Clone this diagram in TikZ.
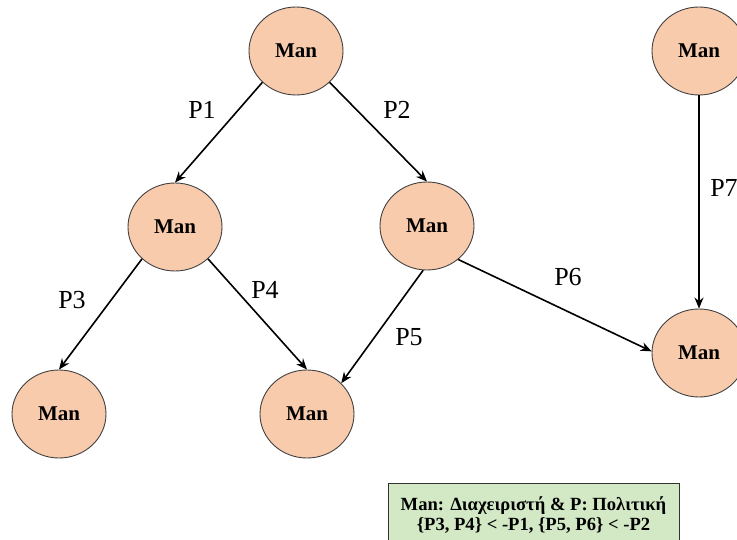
\documentclass[tikz,border=0pt]{standalone}
\usepackage{fontspec}
\setmainfont{Liberation Serif}
\usetikzlibrary{arrows.meta}
\definecolor{peach}{HTML}{F8CBAD}
\definecolor{legendgreen}{HTML}{D3E9C6}
\definecolor{edgegray}{HTML}{404040}
\tikzset{
  man/.style={ellipse, draw=edgegray, line width=0.9pt, fill=peach, minimum width=94pt, minimum height=88pt, inner sep=0pt, font=\fontsize{21}{24}\selectfont\bfseries},
  arr/.style={-{Stealth[length=11pt,width=9pt]}, line width=1.6pt, black},
  plabel/.style={font=\fontsize{26}{30}\selectfont, inner sep=0pt},
  legend/.style={draw=black!80, line width=1pt, fill=legendgreen, minimum width=291pt, minimum height=64pt, inner sep=0pt, align=center, font=\fontsize{18.6}{20.5}\selectfont\bfseries}
}
\usetikzlibrary{shapes.geometric}
\begin{document}
\begin{tikzpicture}[x=1pt,y=-1pt]
\useasboundingbox (0,0) rectangle (737,540);
\clip (0,0) rectangle (737,540);
\node[man] (top) at (296,51) {Man};
\node[man] (rt) at (699,51) {Man};
\node[man] (lm) at (175,227) {Man};
\node[man] (rm) at (427,226) {Man};
\node[man] (bl) at (59,414) {Man};
\node[man] (bm) at (307,414) {Man};
\node[man] (rb) at (699,353) {Man};
\draw[arr] (top.223) -- (lm.north);
\draw[arr] (top.317) -- (rm.north);
\draw[arr] (lm.224) -- (bl.north);
\draw[arr] (lm.316) -- (bm.north);
\draw[arr] (rm.265) -- (bm.42);
\draw[arr] (rm.313) -- (rb.178);
\draw[arr] (rt.south) -- (rb.north);
\node[plabel] (p1) at (202,110) {P1};
\node[plabel] (p2) at (397,110) {P2};
\node[plabel] (p3) at (72,300) {P3};
\node[plabel] (p4) at (265,290) {P4};
\node[plabel] (p5) at (409,337) {P5};
\node[plabel] (p6) at (568,277) {P6};
\node[plabel] (p7) at (724,188) {P7};
\node[legend] (leg) at (533.5,515) {Man: Διαχειριστή \& P: Πολιτική\\\{P3, P4\} < -P1, \{P5, P6\} < -P2};
\end{tikzpicture}
\end{document}
